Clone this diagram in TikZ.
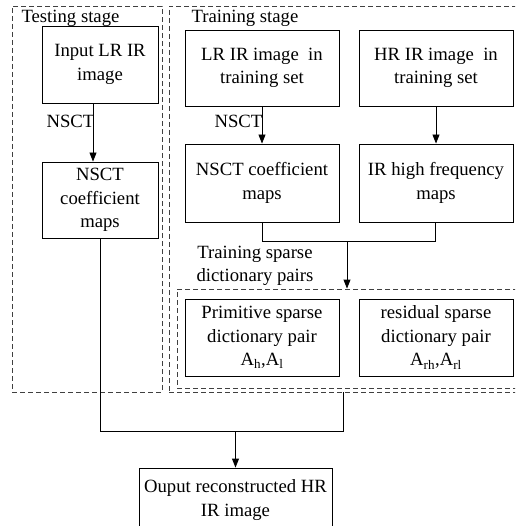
\documentclass[tikz,border=0pt]{standalone}
\usepackage{fontspec}
\setmainfont{Liberation Serif}
\usetikzlibrary{arrows.meta}
\begin{document}
\begin{tikzpicture}[x=1pt,y=-1pt,
  every node/.style={font=\fontsize{18.7}{23.5}\selectfont},
  box/.style={draw,line width=0.9pt,align=center,inner sep=0pt},
  stagebox/.style={draw=black!75,dash pattern=on 5pt off 3pt,line width=0.9pt,inner sep=0pt},
  link/.style={line width=0.9pt},
  arr/.style={link,-{Triangle[length=9pt,width=7pt]}}]
\useasboundingbox (0,0) rectangle (515,526);
\clip (0,0) rectangle (515,526);

% stage frames
\node[stagebox,minimum width=150pt,minimum height=386pt] (test) at (87,199) {};
\node[stagebox,minimum width=361pt,minimum height=386pt] (train) at (349.5,199) {};
\node[stagebox,minimum width=353pt,minimum height=99pt] (dict) at (353.5,338.5) {};
\node[anchor=base west] (testlbl) at (18,23) {Testing stage};
\node[anchor=base west] (trainlbl) at (188,23) {Training stage};

% testing stage
\node[box,minimum width=116pt,minimum height=77pt] (in) at (100,64.5) {Input LR IR\\image};
\node[box,minimum width=116pt,minimum height=76pt] (nt) at (100,200) {NSCT\\coefficient\\maps};

% training stage
\node[box,minimum width=154pt,minimum height=76pt] (lr) at (262,68) {LR IR image\ \ in\\training set};
\node[box,minimum width=154pt,minimum height=76pt] (hr) at (436,68) {HR IR image\ \ in\\training set};
\node[box,minimum width=154pt,minimum height=78pt] (nc) at (262,183) {NSCT coefficient\\maps};
\node[box,minimum width=154pt,minimum height=78pt] (hf) at (436,183) {IR high frequency\\maps};
\node[box,minimum width=154pt,minimum height=77pt] (pd) at (262,337.5) {Primitive sparse\\dictionary pair\\A\textsubscript{h},A\textsubscript{l}};
\node[box,minimum width=154pt,minimum height=77pt] (rd) at (436,337.5) {residual sparse\\dictionary pair\\A\textsubscript{rh},A\textsubscript{rl}};
\node[align=center] (sparselbl) at (255,266) {Training sparse\\dictionary pairs};

% output
\node[box,minimum width=193pt,minimum height=64pt] (out) at (235.5,500) {Ouput reconstructed HR\\IR image};

% connectors
\draw[arr] ([xshift=-7pt]in.south) -- ([xshift=-7pt]nt.north);
\node[anchor=base west] (nsct1) at (43,128) {NSCT};
\draw[arr] (lr.south) -- (nc.north);
\node[anchor=base west] (nsct2) at (211,128) {NSCT};
\draw[arr] (hr.south) -- (hf.south |- hf.north);

\draw[link] (nc.south) -- ++(0,19) -| ([xshift=-1pt]hf.south);
\coordinate (jm) at (347,241);
\draw[arr] (jm) -- (jm |- dict.north);

\draw[link] (nt.south) -- ++(0,193) -| ([xshift=-6.5pt]train.south);
\coordinate (jo) at (235.5,431);
\draw[arr] (jo) -- (out.north);
\end{tikzpicture}
\end{document}
